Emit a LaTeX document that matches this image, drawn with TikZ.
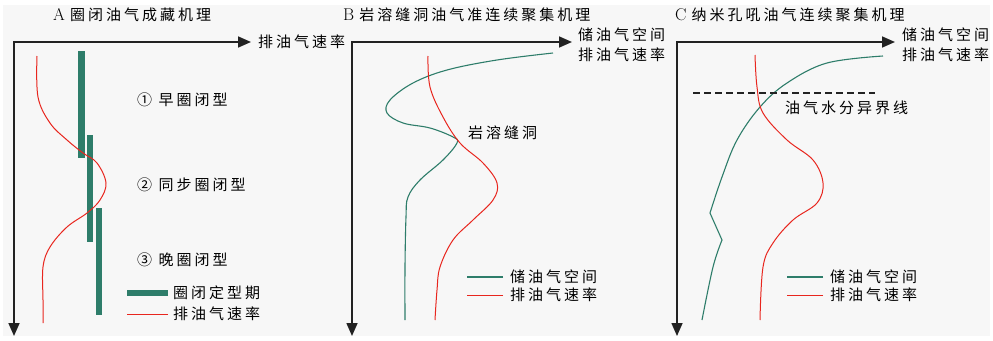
\documentclass[tikz,border=0pt]{standalone}
\usepackage{fontspec}
\newfontfamily\cjk{Noto Sans CJK SC}[LetterSpace=20]
\usetikzlibrary{arrows.meta}
\definecolor{oilgreen}{RGB}{46,125,106}
\definecolor{ratered}{RGB}{232,38,30}
\definecolor{axisgray}{RGB}{34,34,34}
\tikzset{
  axes/.style={line width=1.6pt,draw=axisgray,
    {Triangle[length=13pt,width=11pt]}-{Triangle[length=13pt,width=11pt]}},
  rate/.style={draw=ratered,line width=1pt},
  space/.style={draw=oilgreen,line width=1.1pt},
  txt/.style={font=\fontsize{15}{17}\selectfont\cjk,inner sep=0pt,anchor=west},
  ttl/.style={font=\fontsize{17}{17}\selectfont,inner sep=0pt,anchor=west},
  bar/.style={fill=oilgreen},
}
\begin{document}
\begin{tikzpicture}[x=1pt,y=-1pt]
  \useasboundingbox (0,0) rectangle (993,340);
  \fill[black!3] (3,5) rectangle (990,336);

  % A
  \node[ttl] (tA) at (53,15) {A\ \fontsize{15}{17}\selectfont\cjk 圈闭油气成藏机理};
  \coordinate (oA) at (14,42);
  \coordinate (xA) at (251,42);
  \coordinate (yA) at (14,336);
  \draw[axes] (yA) -- (oA) -- (xA);
  \node[txt] (xlA) at (258,42) {排油气速率};
  \fill[bar] (78,51) rectangle (85,158);
  \fill[bar] (87,135) rectangle (93,242);
  \fill[bar] (96,208) rectangle (102,315);
  \draw[rate] plot[smooth,tension=0.6] coordinates {(37,56) (38,97) (50,123) (67,140)
    (83,153) (97,163) (106,183) (100,200) (87,213) (67,227) (50,247) (43,267) (43,300) (43,323)};
  \node[txt] (early) at (137,100) {①\ 早圈闭型};
  \node[txt] (sync) at (137,185) {②\ 同步圈闭型};
  \node[txt] (late) at (137,260) {③\ 晚圈闭型};
  \node[txt] (legbarA) at (173,293) {圈闭定型期};
  \node[txt] (legrateA) at (173,314) {排油气速率};
  \draw[oilgreen,line width=6pt] (legbarA.west) ++(-5,0) -- ++(-41,0);
  \draw[rate] (legrateA.west) ++(-5,0) -- ++(-41,0);

  % B
  \node[ttl] (tB) at (343,15) {B\ \fontsize{15}{17}\selectfont\cjk 岩溶缝洞油气准连续聚集机理};
  \coordinate (oB) at (352,42);
  \coordinate (xB) at (572,42);
  \coordinate (yB) at (352,336);
  \draw[axes] (yB) -- (oB) -- (xB);
  \node[txt] (xlB1) at (578,35) {储油气空间};
  \node[txt] (xlB2) at (578,55) {排油气速率};
  \draw[space] plot[smooth,tension=0.6] coordinates {(553,53) (497,60) (447,70) (413,83)
    (390,100) (387,113) (403,123) (430,128) (453,137) (457,143) (443,160) (420,180)
    (408,197) (406,217) (405,267) (405,320)};
  \draw[rate] plot[smooth,tension=0.6] coordinates {(428,56) (430,87) (443,117) (460,143)
    (483,163) (497,183) (493,200) (473,220) (453,240) (440,267) (437,290) (435,320)};
  \node[txt] (cave) at (468,133) {岩溶缝洞};
  \node[txt] (legspaceB) at (510,277) {储油气空间};
  \node[txt] (legrateB) at (510,295) {排油气速率};
  \draw[space] (legspaceB.west) ++(-7,0) -- ++(-36,0);
  \draw[rate] (legrateB.west) ++(-7,0) -- ++(-36,0);

  % C
  \node[ttl] (tC) at (675,15) {C\ \fontsize{15}{17}\selectfont\cjk 纳米孔吼油气连续聚集机理};
  \coordinate (oC) at (677,42);
  \coordinate (xC) at (895,42);
  \coordinate (yC) at (677,336);
  \draw[axes] (yC) -- (oC) -- (xC);
  \node[txt] (xlC1) at (902,35) {储油气空间};
  \node[txt] (xlC2) at (902,55) {排油气速率};
  \draw[space] plot[smooth,tension=0.6] coordinates {(883,56) (827,63) (787,83) (760,107)
    (737,140) (722,177) (710,213)} -- (722,240)
    -- plot[smooth,tension=0.6] coordinates {(722,240) (713,267) (702,320)};
  \draw[rate] plot[smooth,tension=0.6] coordinates {(755,55) (757,87) (763,113) (787,140)
    (813,160) (823,183) (817,203) (793,220) (773,243) (763,267) (760,320)};
  \coordinate (wl1) at (693,93);
  \coordinate (wl2) at (875,93);
  \draw[axisgray,line width=1.1pt,dash pattern=on 7pt off 4pt] (wl1) -- (wl2);
  \node[txt] (contact) at (785,108) {油气水分异界线};
  \node[txt] (legspaceC) at (830,277) {储油气空间};
  \node[txt] (legrateC) at (830,295) {排油气速率};
  \draw[space] (legspaceC.west) ++(-7,0) -- ++(-36,0);
  \draw[rate] (legrateC.west) ++(-7,0) -- ++(-36,0);
\end{tikzpicture}
\end{document}
